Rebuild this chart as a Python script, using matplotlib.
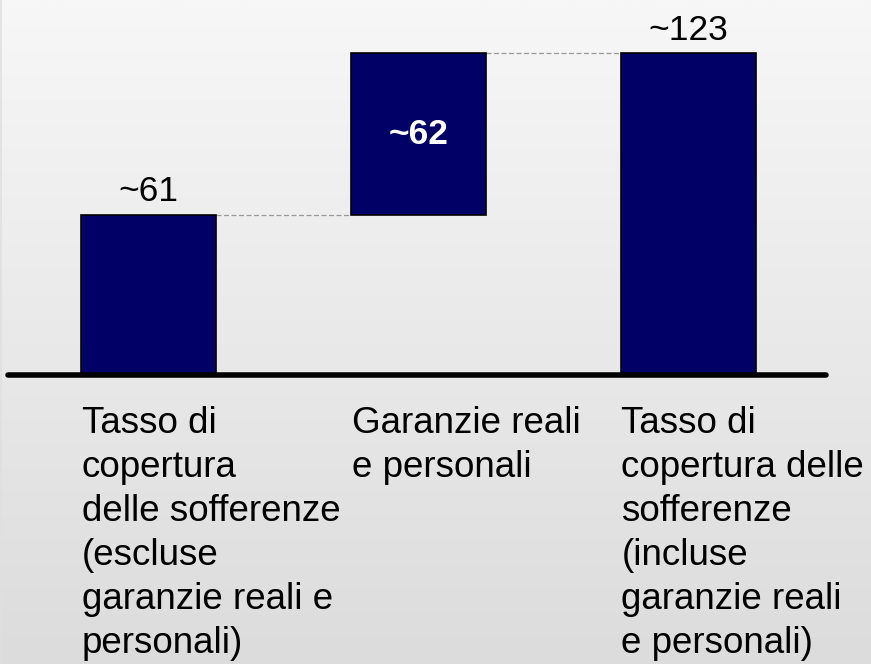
import numpy as np
import matplotlib.pyplot as plt

plt.rcParams['font.family'] = ['Liberation Sans', 'DejaVu Sans']

# data: waterfall of the coverage ratio
categories = ["Tasso di\ncopertura\ndelle sofferenze\n(escluse\ngaranzie reali e\npersonali)",
              "Garanzie reali\ne personali",
              "Tasso di\ncopertura delle\nsofferenze\n(incluse\ngaranzie reali\ne personali)"]
values = [61, 62, 123]
value_labels = ["~61", "~62", "~123"]
bar_color = "#000066"

# bottoms for the waterfall: first and last start at zero, middle floats
bottoms = [0, values[0], 0]
xpos = np.arange(len(values))
width = 0.5

fig = plt.figure(figsize=(8.71, 6.64), dpi=100)

# background gradient
bg = fig.add_axes([0, 0, 1, 1])
grad = np.linspace(0, 1, 256).reshape(-1, 1)
bg.imshow(grad, aspect="auto", cmap=plt.matplotlib.colors.LinearSegmentedColormap.from_list(
    "bg", ["#f7f7f7", "#dcdcdc"]), extent=[0, 1, 0, 1], origin="upper")
bg.axvline(0.001, color="#e0e0e0", lw=1.2)
bg.set_axis_off()

ax = fig.add_axes([0, 0, 1, 1])
ax.patch.set_alpha(0)
ax.set_xlim(-0.5505, 2.678)
ax.set_ylim(-110.4, 143.2)
ax.set_axis_off()

ax.bar(xpos, values[:2] + [values[2]], width=width, bottom=bottoms,
       color=bar_color, edgecolor="black", linewidth=1.2, zorder=3)

# connectors
tops = [b + v for b, v in zip(bottoms, values)]
for i in range(len(values) - 1):
    ax.plot([xpos[i] + width / 2, xpos[i + 1] - width / 2], [tops[i], tops[i]],
            ls=(0, (4, 2)), color="#999999", lw=0.9, zorder=2)

# baseline
ax.plot([-0.521, 2.512], [0, 0], color="black", lw=4, solid_capstyle="round", zorder=4)

# value labels
ax.annotate(value_labels[0], (xpos[0], tops[0]), xytext=(0, 10), textcoords="offset points",
            ha="center", va="baseline", fontsize=25.5)
ax.annotate(value_labels[2], (xpos[2], tops[2]), xytext=(0, 9.5), textcoords="offset points",
            ha="center", va="baseline", fontsize=25.5)
ax.text(xpos[1], bottoms[1] + values[1] / 2, value_labels[1], ha="center", va="center",
        fontsize=25.5, fontweight="bold", color="white", zorder=5)

# category labels
for i, lab in enumerate(categories):
    ax.text(xpos[i] - width / 2 + 0.003, -12.0, lab, ha="left", va="top",
            fontsize=26.5, linespacing=1.33)

fig.savefig("out.png", dpi=100)
